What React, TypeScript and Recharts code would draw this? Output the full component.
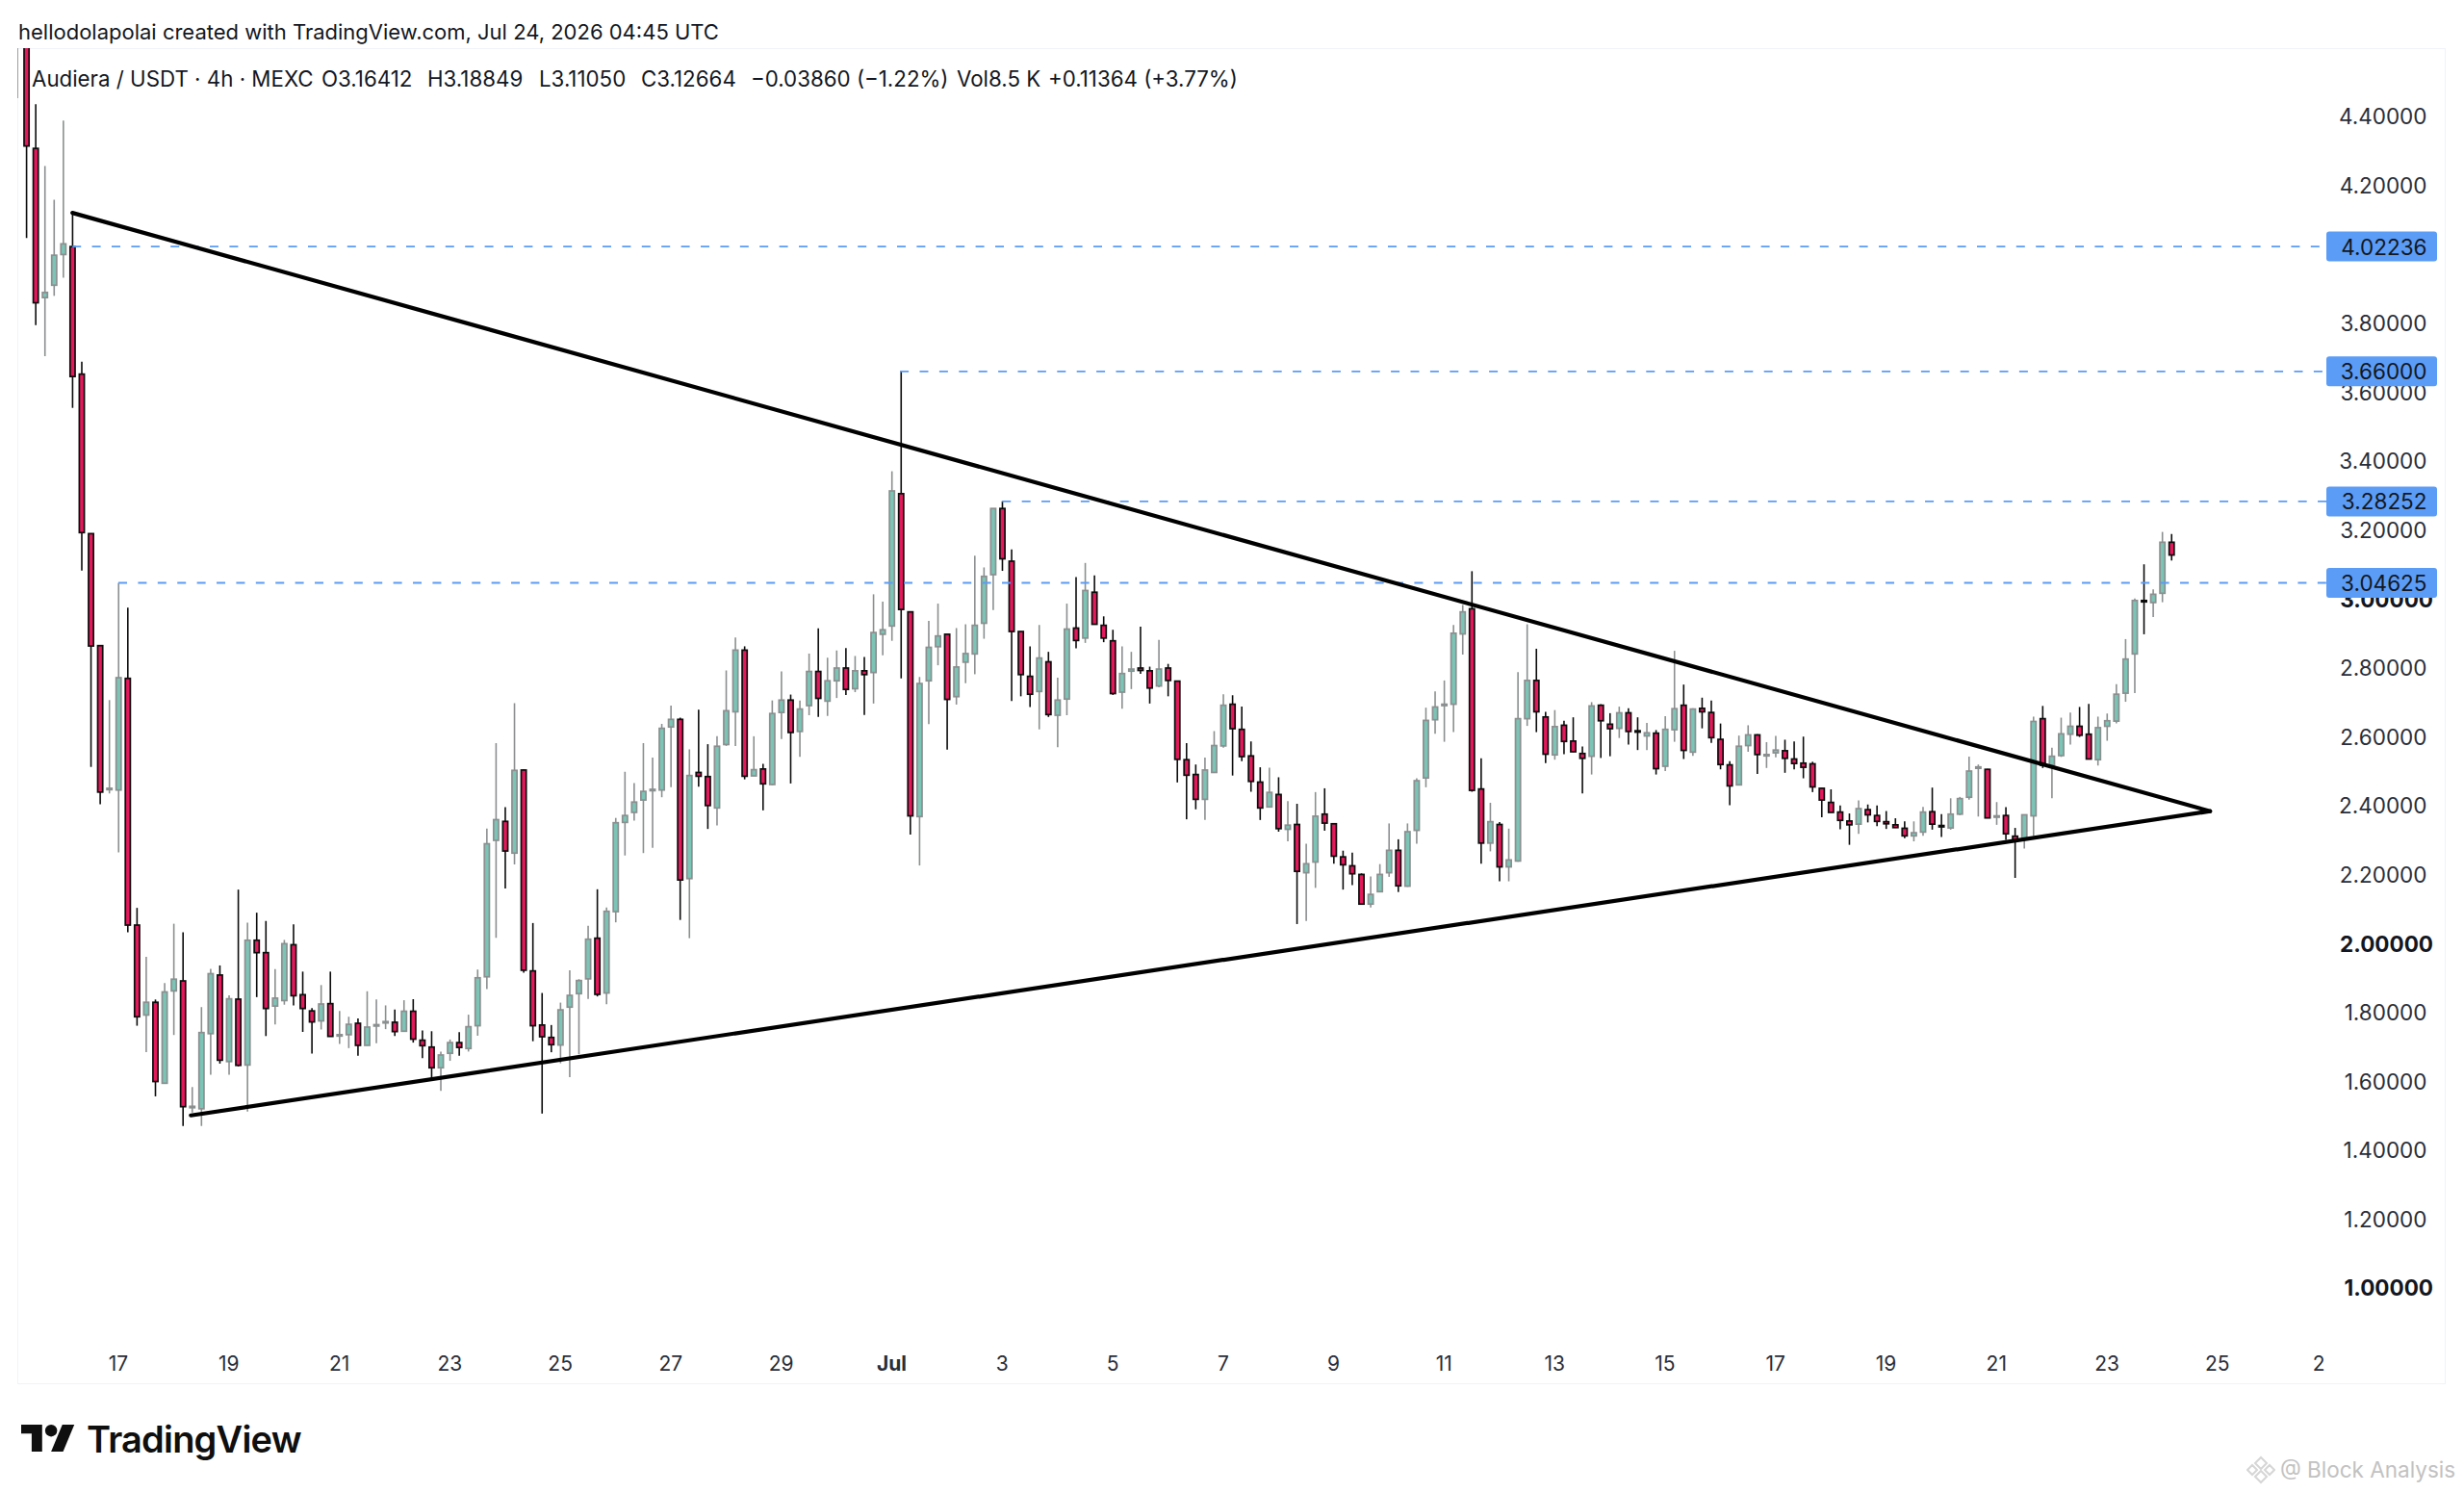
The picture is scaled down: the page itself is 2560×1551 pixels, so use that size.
import React from 'react';
import { ComposedChart, Bar, XAxis, YAxis, ReferenceLine } from 'recharts';

const opens = [
  4.7, 4.9, 4.307, 3.874, 3.910, 3.999, 4.022, 3.652, 3.189, 2.864,
  2.446, 2.445, 2.769, 2.053, 1.792, 1.829, 1.594, 1.862, 1.891, 1.523,
  1.520, 1.738, 1.908, 1.657, 1.838, 1.647, 2.009, 1.973, 1.818, 1.834,
  1.996, 1.851, 1.804, 1.775, 1.825, 1.731, 1.735, 1.768, 1.704, 1.760,
  1.769, 1.771, 1.745, 1.803, 1.719, 1.699, 1.639, 1.681, 1.712, 1.695,
  1.761, 1.903, 2.299, 2.354, 2.262, 2.503, 1.920, 1.763, 1.727, 1.705,
  1.815, 1.854, 1.897, 2.015, 1.856, 2.092, 2.351, 2.380, 2.416, 2.443,
  2.445, 2.628, 2.650, 2.188, 2.496, 2.484, 2.393, 2.577, 2.672, 2.851,
  2.486, 2.506, 2.461, 2.670, 2.706, 2.615, 2.690, 2.789, 2.703, 2.762,
  2.799, 2.739, 2.791, 2.786, 2.897, 2.921, 3.305, 2.962, 2.368, 2.762,
  2.861, 2.897, 2.716, 2.816, 2.840, 2.929, 3.070, 3.262, 3.109, 2.905,
  2.775, 2.731, 2.817, 2.662, 2.709, 2.915, 2.886, 3.019, 2.923, 2.878,
  2.729, 2.790, 2.799, 2.791, 2.747, 2.799, 2.761, 2.533, 2.490, 2.418,
  2.496, 2.573, 2.694, 2.621, 2.544, 2.468, 2.396, 2.432, 2.331, 2.345,
  2.205, 2.236, 2.375, 2.347, 2.251, 2.225, 2.200, 2.114, 2.150, 2.205,
  2.270, 2.166, 2.328, 2.480, 2.649, 2.690, 2.694, 2.898, 2.971, 2.448,
  2.291, 2.345, 2.222, 2.239, 2.652, 2.763, 2.657, 2.547, 2.633, 2.587,
  2.551, 2.543, 2.691, 2.636, 2.624, 2.669, 2.617, 2.602, 2.610, 2.514,
  2.620, 2.691, 2.555, 2.682, 2.670, 2.592, 2.518, 2.460, 2.574, 2.605,
  2.544, 2.553, 2.559, 2.535, 2.523, 2.521, 2.450, 2.409, 2.381, 2.355,
  2.346, 2.388, 2.371, 2.353, 2.344, 2.334, 2.312, 2.323, 2.382, 2.342,
  2.335, 2.375, 2.424, 2.508, 2.505, 2.366, 2.371, 2.311, 2.304, 2.370,
  2.652, 2.517, 2.545, 2.607, 2.630, 2.607, 2.533, 2.630, 2.645, 2.726,
  2.840, 2.995, 2.989, 3.016, 3.164,
];

const highs = [
  5.0, 5.0, 4.435, 4.256, 4.158, 4.388, 4.120, 3.688, 3.189, 2.864,
  2.706, 3.046, 2.974, 2.103, 1.961, 1.837, 1.885, 2.057, 2.032, 1.583,
  1.815, 1.926, 1.936, 1.849, 2.156, 2.060, 2.089, 2.065, 1.925, 2.010,
  2.055, 1.918, 1.812, 1.879, 1.918, 1.804, 1.787, 1.782, 1.861, 1.837,
  1.820, 1.808, 1.835, 1.838, 1.747, 1.745, 1.686, 1.721, 1.742, 1.793,
  1.924, 2.333, 2.581, 2.395, 2.697, 2.505, 2.059, 1.856, 1.763, 1.828,
  1.922, 1.896, 2.051, 2.157, 2.104, 2.364, 2.498, 2.465, 2.581, 2.539,
  2.637, 2.690, 2.655, 2.563, 2.678, 2.578, 2.601, 2.792, 2.888, 2.862,
  2.601, 2.521, 2.705, 2.789, 2.722, 2.705, 2.841, 2.914, 2.829, 2.850,
  2.857, 2.834, 2.831, 3.013, 2.992, 3.370, 3.660, 2.962, 2.773, 2.936,
  2.986, 2.897, 2.915, 2.926, 3.125, 3.091, 3.262, 3.283, 3.143, 2.905,
  2.862, 2.924, 2.846, 2.771, 2.986, 3.063, 3.104, 3.068, 2.949, 2.910,
  2.862, 2.846, 2.919, 2.803, 2.881, 2.811, 2.761, 2.581, 2.519, 2.539,
  2.616, 2.723, 2.720, 2.687, 2.586, 2.511, 2.510, 2.482, 2.413, 2.405,
  2.289, 2.439, 2.450, 2.349, 2.269, 2.263, 2.203, 2.194, 2.230, 2.348,
  2.302, 2.348, 2.479, 2.684, 2.731, 2.763, 2.924, 2.982, 3.080, 2.537,
  2.408, 2.352, 2.333, 2.787, 2.926, 2.855, 2.672, 2.677, 2.646, 2.656,
  2.571, 2.700, 2.694, 2.668, 2.687, 2.682, 2.656, 2.640, 2.619, 2.659,
  2.849, 2.751, 2.682, 2.713, 2.705, 2.638, 2.529, 2.603, 2.633, 2.607,
  2.584, 2.602, 2.591, 2.586, 2.600, 2.527, 2.451, 2.447, 2.400, 2.377,
  2.415, 2.403, 2.400, 2.384, 2.363, 2.354, 2.354, 2.396, 2.452, 2.375,
  2.421, 2.425, 2.542, 2.519, 2.506, 2.410, 2.395, 2.335, 2.373, 2.658,
  2.689, 2.568, 2.655, 2.670, 2.686, 2.695, 2.658, 2.667, 2.752, 2.883,
  3.001, 3.100, 3.027, 3.194, 3.188,
];

const lows = [
  4.453, 4.047, 3.794, 3.704, 3.879, 3.932, 3.554, 3.082, 2.512, 2.404,
  2.435, 2.264, 2.032, 1.761, 1.684, 1.556, 1.593, 1.734, 1.470, 1.509,
  1.470, 1.619, 1.651, 1.619, 1.643, 1.512, 1.844, 1.731, 1.765, 1.822,
  1.820, 1.743, 1.680, 1.750, 1.730, 1.708, 1.696, 1.674, 1.704, 1.710,
  1.751, 1.731, 1.745, 1.712, 1.667, 1.609, 1.572, 1.659, 1.674, 1.686,
  1.732, 1.867, 2.016, 2.159, 2.229, 1.915, 1.716, 1.506, 1.684, 1.652,
  1.612, 1.678, 1.839, 1.846, 1.823, 2.061, 2.255, 2.356, 2.262, 2.277,
  2.424, 2.453, 2.068, 2.015, 2.455, 2.332, 2.342, 2.573, 2.573, 2.476,
  2.486, 2.386, 2.459, 2.593, 2.464, 2.541, 2.662, 2.657, 2.660, 2.712,
  2.721, 2.729, 2.663, 2.696, 2.836, 2.878, 2.769, 2.316, 2.226, 2.636,
  2.807, 2.562, 2.693, 2.755, 2.781, 2.884, 2.967, 3.081, 2.703, 2.717,
  2.686, 2.621, 2.657, 2.569, 2.662, 2.856, 2.872, 2.925, 2.874, 2.721,
  2.681, 2.738, 2.782, 2.696, 2.743, 2.717, 2.467, 2.360, 2.389, 2.358,
  2.495, 2.568, 2.487, 2.529, 2.440, 2.358, 2.395, 2.324, 2.296, 2.056,
  2.065, 2.161, 2.327, 2.231, 2.156, 2.169, 2.114, 2.104, 2.150, 2.193,
  2.149, 2.164, 2.289, 2.453, 2.608, 2.585, 2.613, 2.838, 2.440, 2.231,
  2.267, 2.180, 2.180, 2.237, 2.631, 2.613, 2.523, 2.533, 2.549, 2.555,
  2.435, 2.490, 2.538, 2.543, 2.596, 2.577, 2.561, 2.561, 2.490, 2.500,
  2.585, 2.535, 2.544, 2.624, 2.582, 2.505, 2.401, 2.459, 2.556, 2.492,
  2.509, 2.540, 2.495, 2.505, 2.479, 2.439, 2.366, 2.380, 2.331, 2.286,
  2.318, 2.351, 2.340, 2.332, 2.335, 2.305, 2.296, 2.312, 2.330, 2.309,
  2.330, 2.372, 2.417, 2.368, 2.364, 2.344, 2.300, 2.190, 2.275, 2.312,
  2.509, 2.421, 2.541, 2.577, 2.599, 2.535, 2.516, 2.588, 2.638, 2.701,
  2.726, 2.897, 2.947, 2.990, 3.111,
];

const closes = [
  4.9, 4.314, 3.859, 3.889, 3.997, 4.030, 3.645, 3.192, 2.863, 2.439,
  2.450, 2.771, 2.053, 1.787, 1.829, 1.599, 1.859, 1.896, 1.526, 1.527,
  1.741, 1.912, 1.661, 1.839, 1.646, 2.009, 1.973, 1.811, 1.841, 1.999,
  1.848, 1.811, 1.772, 1.824, 1.730, 1.735, 1.765, 1.704, 1.757, 1.764,
  1.773, 1.744, 1.803, 1.722, 1.703, 1.639, 1.676, 1.712, 1.698, 1.758,
  1.900, 2.289, 2.359, 2.268, 2.502, 1.922, 1.761, 1.729, 1.706, 1.807,
  1.849, 1.892, 2.012, 1.852, 2.093, 2.350, 2.371, 2.410, 2.441, 2.447,
  2.624, 2.650, 2.184, 2.487, 2.485, 2.400, 2.572, 2.675, 2.851, 2.485,
  2.504, 2.463, 2.667, 2.706, 2.612, 2.680, 2.789, 2.711, 2.762, 2.799,
  2.737, 2.791, 2.780, 2.902, 2.910, 3.313, 2.969, 2.370, 2.754, 2.859,
  2.892, 2.708, 2.802, 2.841, 2.923, 3.065, 3.262, 3.116, 2.905, 2.780,
  2.723, 2.828, 2.664, 2.706, 2.912, 2.879, 3.024, 2.926, 2.886, 2.725,
  2.783, 2.796, 2.792, 2.741, 2.796, 2.763, 2.534, 2.488, 2.418, 2.503,
  2.574, 2.691, 2.623, 2.542, 2.470, 2.393, 2.438, 2.333, 2.343, 2.209,
  2.231, 2.369, 2.349, 2.253, 2.228, 2.202, 2.114, 2.142, 2.200, 2.270,
  2.167, 2.324, 2.472, 2.647, 2.686, 2.694, 2.900, 2.962, 2.444, 2.291,
  2.353, 2.222, 2.242, 2.652, 2.763, 2.672, 2.549, 2.629, 2.586, 2.556,
  2.537, 2.689, 2.646, 2.623, 2.669, 2.615, 2.613, 2.611, 2.507, 2.621,
  2.681, 2.560, 2.680, 2.672, 2.597, 2.519, 2.457, 2.572, 2.605, 2.548,
  2.548, 2.561, 2.537, 2.522, 2.511, 2.454, 2.416, 2.380, 2.357, 2.344,
  2.391, 2.373, 2.354, 2.347, 2.336, 2.312, 2.321, 2.381, 2.346, 2.338,
  2.375, 2.420, 2.500, 2.512, 2.364, 2.370, 2.318, 2.300, 2.373, 2.644,
  2.517, 2.543, 2.608, 2.630, 2.604, 2.535, 2.626, 2.646, 2.723, 2.825,
  2.995, 2.991, 3.013, 3.164, 3.127,
];

const priceTicks = [4.4, 4.2, 3.8, 3.6, 3.4, 3.2, 3.0, 2.8, 2.6, 2.4, 2.2, 2.0, 1.8, 1.6, 1.4, 1.2, 1.0];
const boldPrices = [3.0, 2.0, 1.0];
// horizontal levels with their start bar
const levelPrices = [4.02236, 3.66, 3.28252, 3.04625];
const levelStarts = [6, 95.9, 107, 11];

const dateTicks = [11, 23, 35, 47, 59, 71, 83, 95, 107, 119, 131, 143, 155, 167, 179, 191, 203, 215, 227, 239, 250];
const dateLabels = ['17', '19', '21', '23', '25', '27', '29', 'Jul', '3', '5', '7', '9', '11', '13', '15', '17', '19', '21', '23', '25', '2'];

// triangle drawn on the chart: [bar, price]
const upperStart = [6, 4.12];
const lowerStart = [18.87, 1.5008];
const apex = [238.2, 2.3835];

const legendParts = ['Audiera / USDT · 4h · MEXC', 'O3.16412', 'H3.18849', 'L3.11050', 'C3.12664', '−0.03860 (−1.22%)', 'Vol8.5 K', '+0.11364 (+3.77%)'];
const legendLefts = [33, 334, 444, 560, 666, 780, 994, 1089];

const X_DOMAIN: [number, number] = [0.02, 250.83];
const Y_DOMAIN: [number, number] = [0.8407, 4.598];

const candles = opens.map((open, i) => ({ i, open, high: highs[i], low: lows[i], close: closes[i] }));

const FONT = 'Inter, "Liberation Sans", sans-serif';
const LEVEL_BLUE = '#5b9cf6';

const Candle = (props: any) => {
  const { x, y, width, height, payload } = props;
  const { open, high, low, close } = payload;
  const up = close >= open;
  const cx = x + width / 2;
  const perUnit = Math.abs(height) / (high - low);
  const top = Math.min(y, y + height);
  const bodyTop = top + (high - Math.max(open, close)) * perUnit;
  const bodyH = Math.max(Math.abs(open - close) * perUnit, 0.6);
  const border = up ? '#8b8f8f' : '#0c0c0c';
  return (
    <g>
      <line x1={cx} x2={cx} y1={top} y2={top + Math.abs(height)} stroke={border} strokeWidth={1.6} />
      <rect x={cx - 2.6} y={bodyTop} width={5.2} height={bodyH} fill={up ? '#7cc4b6' : '#e3195c'} stroke={border} strokeWidth={1.7} />
    </g>
  );
};

const PriceTick = (props: any) => {
  const { y, payload } = props;
  const value = payload.value;
  if (levelPrices.includes(value)) {
    return (
      <g>
        <rect x={2417} y={y - 15.5} width={115} height={31} rx={3} fill={LEVEL_BLUE} />
        <text x={2521.5} y={y} textAnchor="end" dominantBaseline="central" fontFamily={FONT} fontSize={22.5} fill="#131722">
          {value.toFixed(5)}
        </text>
      </g>
    );
  }
  const bold = boldPrices.includes(value);
  return (
    <text x={bold ? 2528 : 2521.5} y={y} textAnchor="end" dominantBaseline="central" fontFamily={FONT} fontSize={22.5} fontWeight={bold ? 700 : 400} fill={bold ? '#131722' : '#2a2e39'}>
      {value.toFixed(5)}
    </text>
  );
};

const DateTick = (props: any) => {
  const { x, payload } = props;
  const label = dateLabels[dateTicks.indexOf(payload.value)];
  return (
    <text x={x} y={1416} textAnchor="middle" dominantBaseline="central" fontFamily={FONT} fontSize={21} fontWeight={label === 'Jul' ? 700 : 400} fill="#2a2e39">
      {label}
    </text>
  );
};

const App = () => {
  return (
    <div style={{ position: 'absolute', left: 0, top: 0, width: 2560, height: 1551, background: '#fff', overflow: 'hidden' }}>
      <div style={{ position: 'absolute', left: 18, top: 50, width: 2523, height: 1388, border: '1.5px solid #f0f3fa', boxSizing: 'border-box' }} />
      <ComposedChart
        width={2560}
        height={1551}
        data={candles}
        margin={{ top: 50, right: 19, bottom: 116, left: 18 }}
        style={{ position: 'absolute', left: 0, top: 0 }}
      >
        <XAxis
          dataKey="i"
          type="number"
          scale="linear"
          domain={X_DOMAIN}
          ticks={dateTicks}
          interval={0}
          axisLine={false}
          tickLine={false}
          tick={<DateTick />}
          height={40}
          allowDataOverflow
        />
        <YAxis
          orientation="right"
          type="number"
          domain={Y_DOMAIN}
          ticks={[...priceTicks, ...levelPrices]}
          interval={0}
          axisLine={false}
          tickLine={false}
          tick={<PriceTick />}
          width={124}
          allowDataOverflow
        />
        {levelPrices.map((price, n) => (
          <ReferenceLine
            key={price}
            segment={[{ x: levelStarts[n], y: price }, { x: X_DOMAIN[1], y: price }]}
            stroke={LEVEL_BLUE}
            strokeWidth={1.8}
            strokeDasharray="9 11.4"
          />
        ))}
        <Bar dataKey={(d: any) => [d.low, d.high]} barSize={8} shape={<Candle />} isAnimationActive={false} />
        <ReferenceLine segment={[{ x: upperStart[0], y: upperStart[1] }, { x: apex[0], y: apex[1] }]} stroke="#000" strokeWidth={4.2} strokeLinecap="round" />
        <ReferenceLine segment={[{ x: lowerStart[0], y: lowerStart[1] }, { x: apex[0], y: apex[1] }]} stroke="#000" strokeWidth={4.2} strokeLinecap="round" />
      </ComposedChart>

      <div style={{ position: 'absolute', left: 19, top: 19, fontFamily: FONT, fontSize: 22, lineHeight: '28px', color: '#131722', whiteSpace: 'pre' }}>
        hellodolapolai created with TradingView.com, Jul 24, 2026 04:45 UTC
      </div>
      {legendParts.map((part, n) => (
        <div key={part} style={{ position: 'absolute', left: legendLefts[n], top: 68, fontFamily: FONT, fontSize: 22.3, lineHeight: '28px', color: '#131722', whiteSpace: 'pre' }}>
          {part}
        </div>
      ))}

      <svg style={{ position: 'absolute', left: 22, top: 1480 }} width={56} height={28} viewBox="0 6 36 18">
        <path d="M14 6H0v6h7v12h7V6Z" fill="#0f0f0f" />
        <path d="M28 24h-8l7.5-18h8L28 24Z" fill="#0f0f0f" />
        <circle cx={20} cy={10} r={4} fill="#0f0f0f" />
      </svg>
      <div style={{ position: 'absolute', left: 90, top: 1470, fontFamily: FONT, fontSize: 38, fontWeight: 600, lineHeight: '50px', letterSpacing: -0.8, color: '#0f0f0f' }}>
        TradingView
      </div>

      <svg style={{ position: 'absolute', left: 2334, top: 1512 }} width={30} height={30} viewBox="0 0 30 30">
        <g fill="none" stroke="#d6d6d6" strokeWidth={2}>
          <path d="M15 2 L21 8 L15 14 L9 8 Z" />
          <path d="M15 16 L21 22 L15 28 L9 22 Z" />
          <path d="M6 10 L11 15 L6 20 L1 15 Z" />
          <path d="M24 10 L29 15 L24 20 L19 15 Z" />
        </g>
      </svg>
      <div style={{ position: 'absolute', left: 2369, top: 1510, fontFamily: FONT, fontSize: 22.5, lineHeight: '34px', color: '#c2c2c2', whiteSpace: 'pre' }}>
        @ Block Analysis
      </div>
    </div>
  );
};

export default App;
